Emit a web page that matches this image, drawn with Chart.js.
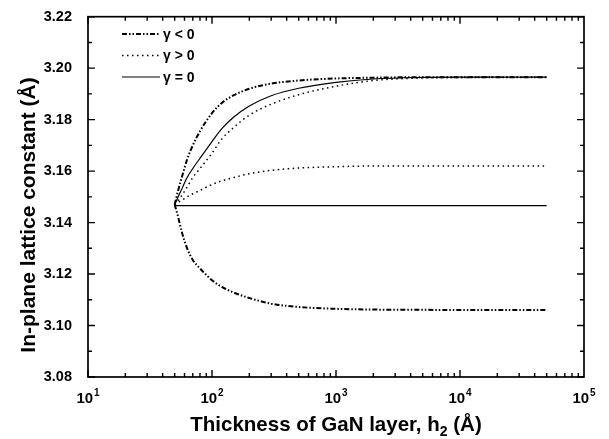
<!DOCTYPE html>
<html>
<head>
<meta charset="utf-8">
<script src="https://cdn.jsdelivr.net/npm/chart.js@4/dist/chart.umd.min.js"></script>
<style>
html,body{margin:0;padding:0;background:#fff;}
#wrap{width:609px;height:439px;}
</style>
</head>
<body>
<div id="wrap"><canvas id="c" width="609" height="439"></canvas></div>
<script>
// thickness h2 (Å) where the curves were read
const thickness = [50, 53, 57, 63, 70, 80, 100, 120, 150, 200, 300, 500, 1000, 2000, 5000, 10000, 50000];

// gamma < 0 (dash-dot, upper and lower branches)
const negUpper = [3.147, 3.152, 3.1575, 3.1645, 3.170, 3.1755, 3.1825, 3.1865, 3.1895, 3.192, 3.194, 3.1952, 3.196, 3.1963, 3.1965, 3.1965, 3.1965];
const negLower = [3.147, 3.1427, 3.1365, 3.130, 3.1255, 3.1222, 3.1176, 3.115, 3.1128, 3.1107, 3.1085, 3.1072, 3.1065, 3.1062, 3.1061, 3.106, 3.106];
// gamma > 0 (dotted)
const posUpper = [3.147, 3.1485, 3.1505, 3.1538, 3.1575, 3.161, 3.167, 3.1725, 3.177, 3.1818, 3.186, 3.1897, 3.193, 3.1952, 3.1962, 3.1964, 3.1965];
const posMiddle = [3.147, 3.1478, 3.1487, 3.150, 3.1512, 3.1525, 3.1548, 3.1562, 3.1575, 3.159, 3.1603, 3.1612, 3.1617, 3.162, 3.162, 3.162, 3.162];
// gamma = 0 (solid)
const zeroUpper = [3.147, 3.1497, 3.153, 3.1575, 3.161, 3.165, 3.1715, 3.1765, 3.181, 3.1853, 3.1893, 3.1922, 3.1945, 3.1958, 3.1964, 3.1965, 3.1965];
const flatX = [50, 50000];
const flatY = [3.1466, 3.1466];

const legendLabels = ['\u03b3 < 0', '\u03b3 > 0', '\u03b3 = 0'];
const xDecades = [1, 2, 3, 4, 5];
const yTitle = 'In-plane lattice constant (\u00c5)';

const DASHDOT = [5, 2, 1.5, 2, 1.5, 2];
const DOT = [1.5, 3.5];
const FONT = '"Liberation Sans", Arial, sans-serif';

function pts(xs, ys){ return xs.map((x,i)=>({x, y:ys[i]})); }
function ds(data, dash, width){
  return { data, borderColor:'#000', borderWidth:width, borderDash:dash, pointRadius:0, fill:false, cubicInterpolationMode:'monotone' };
}

const frame = {
  id:'frame',
  afterDraw(chart){
    const {ctx, chartArea:a, scales:{x, y}} = chart;
    ctx.save();
    ctx.strokeStyle='#000'; ctx.fillStyle='#000'; ctx.setLineDash([]);
    ctx.lineWidth=1.7;
    ctx.strokeRect(a.left, a.top, a.right-a.left, a.bottom-a.top);
    // x ticks, log, top and bottom
    ctx.lineWidth=1.4;
    for (let d=1; d<5; d++){
      for (let m=1; m<10; m++){
        const px = x.getPixelForValue(m*Math.pow(10,d));
        const len = m===1 ? 7 : 4;
        ctx.beginPath();
        ctx.moveTo(px, a.bottom); ctx.lineTo(px, a.bottom-len);
        ctx.moveTo(px, a.top); ctx.lineTo(px, a.top+len);
        ctx.stroke();
      }
    }
    // y ticks, left and right
    for (let v=3.08; v<=3.2201; v+=0.01){
      const py = y.getPixelForValue(v);
      const major = Math.round(v*100)%2===0;
      const len = major ? 7 : 4;
      ctx.beginPath();
      ctx.moveTo(a.left, py); ctx.lineTo(a.left+len, py);
      ctx.moveTo(a.right, py); ctx.lineTo(a.right-len, py);
      ctx.stroke();
    }
    // x tick labels 10^n
    ctx.textBaseline='alphabetic';
    for (const n of xDecades){
      const px = x.getPixelForValue(Math.pow(10,n));
      ctx.font='bold 15px '+FONT;
      const wb = ctx.measureText('10').width;
      ctx.font='bold 10px '+FONT;
      const we = ctx.measureText(String(n)).width;
      const x0 = px - (wb+we+1)/2;
      ctx.font='bold 15px '+FONT;
      ctx.textAlign='left';
      ctx.fillText('10', x0, 403);
      ctx.font='bold 10px '+FONT;
      ctx.fillText(String(n), x0+wb+1, 396);
    }
    // x title with subscript
    const t1='Thickness of GaN layer, h', t2='2', t3=' (\u00c5)';
    const big='bold 20.5px '+FONT, small='bold 14px '+FONT;
    ctx.font=big; const w1=ctx.measureText(t1).width, w3=ctx.measureText(t3).width;
    ctx.font=small; const w2=ctx.measureText(t2).width;
    const cx=(a.left+a.right)/2, tx=cx-(w1+w2+w3)/2, ty=431;
    ctx.font=big; ctx.fillText(t1, tx, ty);
    ctx.font=small; ctx.fillText(t2, tx+w1, ty+5);
    ctx.font=big; ctx.fillText(t3, tx+w1+w2, ty);
    // y title, rotated
    ctx.save();
    ctx.translate(29, 215); ctx.rotate(-Math.PI/2);
    ctx.font='bold 21px '+FONT; ctx.textAlign='center'; ctx.textBaseline='middle';
    ctx.fillText(yTitle, 0, 0);
    ctx.restore();
    // legend
    const styles=[[DASHDOT,2],[DOT,1.5],[[],1.2]];
    ctx.font='bold 14px '+FONT;
    ctx.textAlign='left'; ctx.textBaseline='middle';
    legendLabels.forEach((lab,i)=>{
      const ly = 34 + i*21.5;
      ctx.setLineDash(styles[i][0]); ctx.lineWidth=styles[i][1];
      ctx.beginPath(); ctx.moveTo(122, ly); ctx.lineTo(160, ly); ctx.stroke();
      ctx.setLineDash([]);
      ctx.fillText(lab, 163, ly+1);
    });
    ctx.restore();
  }
};

new Chart(document.getElementById('c'), {
  type:'line',
  data:{ datasets:[
    ds(pts(thickness, negUpper), DASHDOT, 2),
    ds(pts(thickness, negLower), DASHDOT, 2),
    ds(pts(thickness, posUpper), DOT, 1.5),
    ds(pts(thickness, posMiddle), DOT, 1.5),
    ds(pts(thickness, zeroUpper), [], 1.2),
    ds(pts(flatX, flatY), [], 1.2)
  ]},
  options:{
    responsive:false, animation:false, devicePixelRatio:1,
    layout:{padding:{top:12, right:25, left:0, bottom:0}},
    plugins:{legend:{display:false}, tooltip:{enabled:false}},
    scales:{
      x:{ type:'logarithmic', min:10, max:100000,
          grid:{display:false}, border:{display:false},
          ticks:{display:false},
          afterFit(s){ s.height=62; } },
      y:{ min:3.08, max:3.22,
          grid:{display:false}, border:{display:false},
          ticks:{stepSize:0.02, color:'#000', padding:8, font:{family:FONT, size:14.5, weight:'bold'},
                 callback:v=>Number(v).toFixed(2)},
          afterFit(s){ s.width=88; } }
    }
  },
  plugins:[frame]
});
</script>
</body>
</html>
